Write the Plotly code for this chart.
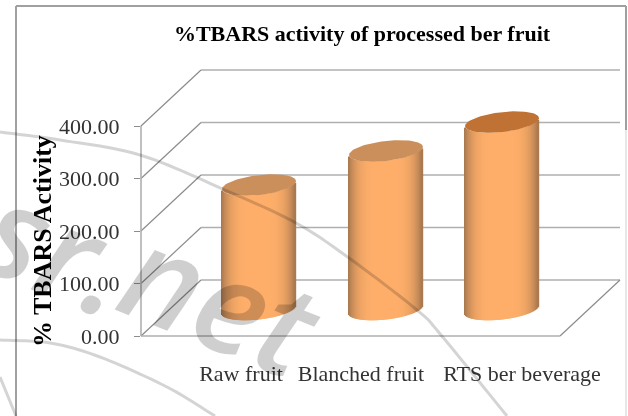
import numpy as np
import plotly.graph_objects as go

# ---- data ----
categories = ["Raw fruit", "Blanched fruit", "RTS ber beverage"]
tbars_values = [237, 302, 357]
y_ticks = [0, 100, 200, 300, 400]
tick_labels = ["0.00", "100.00", "200.00", "300.00", "400.00"]
title_text = "%TBARS activity of processed ber fruit"
y_title = "% TBARS Activity"
watermark_parts = ["sr.", "net"]

# ---- pseudo-3D layout constants ----
W, H = 628, 416
LEFT, RIGHT, TOP, BOTTOM = 141, 560, 126, 336   # front plane of the plot in page pixels
PX_PER_UNIT = (BOTTOM - TOP) / 400
DX, DY_UNITS = 60, 56 / PX_PER_UNIT             # depth of the 3D box
bar_centres = [259, 386, 502]                   # x-axis positions of the cylinders
label_centres = [241, 361, 522]
FLOOR_OFFSET = (BOTTOM - 309.5) / PX_PER_UNIT   # cylinders stand mid-depth
RX = 37
RY_UNITS = 10 / PX_PER_UNIT
TILT_UNITS = 4 / PX_PER_UNIT
top_colours = ["rgb(203,143,92)", "rgb(203,143,92)", "rgb(192,114,52)"]
YMAX = BOTTOM / PX_PER_UNIT                     # axis runs on to the page top


def py(page_y):
    """page pixel row -> value on the y axis"""
    return (BOTTOM - page_y) / PX_PER_UNIT


def fx(x):
    return (x - LEFT) / (W - LEFT)


def fy(page_y):
    return py(page_y) / YMAX


def body_colour(t):
    """t in [-1, 1] across the cylinder"""
    k = abs(t) ** 4
    dark, light = np.array([165, 118, 78]), np.array([255, 175, 106])
    c = light + (dark - light) * k
    return "rgb(%d,%d,%d)" % tuple(c)


def smooth(xs, ys, n=12):
    """Catmull-Rom polyline through the traced points of a watermark arc"""
    p = np.column_stack([xs, ys]).astype(float)
    p = np.vstack([2 * p[0] - p[1], p, 2 * p[-1] - p[-2]])
    out = []
    for i in range(1, len(p) - 2):
        for u in np.linspace(0, 1, n, endpoint=False):
            out.append(0.5 * (2 * p[i] + (p[i + 1] - p[i - 1]) * u
                              + (2 * p[i - 1] - 5 * p[i] + 4 * p[i + 1] - p[i + 2]) * u ** 2
                              + (3 * p[i] - p[i - 1] - 3 * p[i + 1] + p[i + 2]) * u ** 3))
    out.append(p[-2])
    return out


fig = go.Figure()
strip = np.arange(-RX + 0.5, RX, 1.0)
for cx, val, top in zip(bar_centres, tbars_values, top_colours):
    t = strip / RX
    lower = FLOOR_OFFSET - RY_UNITS * np.sqrt(1 - t ** 2) + TILT_UNITS * t
    fig.add_trace(go.Bar(
        x=cx + strip, y=[val] * len(strip), base=lower, width=1.4,
        marker=dict(color=[body_colour(v) for v in t], line=dict(width=0)),
        cliponaxis=False, showlegend=False, hoverinfo="skip"))
    a = np.linspace(0, 2 * np.pi, 90)
    fig.add_trace(go.Scatter(
        x=cx + RX * np.cos(a),
        y=val + FLOOR_OFFSET + RY_UNITS * np.sin(a) + TILT_UNITS * np.cos(a),
        mode="lines", fill="toself", fillcolor=top, line=dict(width=0, color=top),
        cliponaxis=False, showlegend=False, hoverinfo="skip"))


def seg(x0, v0, x1, v1, line):
    """line in axis units, via paper refs so that it is not clipped"""
    return dict(type="line", xref="paper", yref="paper", layer="below",
                x0=fx(x0), x1=fx(x1), y0=v0 / YMAX, y1=v1 / YMAX, line=line)


# 3D box drawn from the tick values
shapes = []
grid = dict(color="rgb(175,175,175)", width=1.6)
slant = dict(color="rgb(140,140,140)", width=1.2)
for v in y_ticks:
    shapes.append(seg(LEFT + DX, v + DY_UNITS, 620, v + DY_UNITS, grid))
    shapes.append(seg(LEFT, v, LEFT + DX, v + DY_UNITS, slant))
shapes.append(seg(RIGHT, 0, 620, DY_UNITS, slant))
shapes.append(seg(LEFT, 0, RIGHT, 0, grid))
shapes.append(seg(LEFT, 0, LEFT, y_ticks[-1], grid))
# outer frame
frame = dict(color="rgb(160,160,160)", width=2)
for x0, y0, x1, y1 in [(16, 6, 626, 6), (16, 6, 16, 416), (626, 6, 626, 130)]:
    shapes.append(seg(x0, py(y0), x1, py(y1), frame))
shapes.append(seg(626, py(130), 626, py(416), dict(color="rgb(232,232,232)", width=2)))

# watermark arcs, over everything
arc_colour = "rgba(0,0,0,0.17)"
arcs = [
    ([0, 60, 140, 225, 296, 349, 417, 441, 507], [132, 140, 155, 190, 223, 258, 310, 335, 416]),
    ([0, 50, 100, 167, 215], [340, 343, 357, 387, 416]),
    ([0, 16], [377, 416]),
]
for ax_, ay_ in arcs:
    pts = " L ".join("%.4f,%.4f" % (fx(q[0]), fy(q[1])) for q in smooth(ax_, ay_))
    shapes.append(dict(type="path", xref="paper", yref="paper", layer="above",
                       path="M " + pts, line=dict(color=arc_colour, width=3)))

wm_font = dict(family="Open Sans", size=130, style="italic", weight=600, color="rgba(0,0,0,0.19)")
centred = dict(xref="paper", yref="paper", xanchor="center", yanchor="middle", showarrow=False)
fig.update_layout(
    width=W, height=H, autosize=False,
    margin=dict(l=LEFT, r=0, t=0, b=H - BOTTOM, pad=0),
    paper_bgcolor="white", plot_bgcolor="rgba(0,0,0,0)",
    barmode="overlay", showlegend=False, shapes=shapes,
    font=dict(family="Liberation Serif", color="#333"),
    title=dict(text="<b>%s</b>" % title_text, x=362 / W, y=1 - 33 / H,
               xanchor="center", yanchor="middle",
               font=dict(family="Liberation Serif", size=22, color="black")),
    xaxis=dict(range=[LEFT, W], tickmode="array", tickvals=label_centres,
               ticktext=categories, ticks="", showgrid=False, zeroline=False,
               showline=False,
               ticklabelstandoff=22, tickfont=dict(size=22), automargin=False),
    yaxis=dict(range=[0, YMAX], tickmode="array", tickvals=y_ticks, ticktext=tick_labels,
               ticks="outside", ticklen=6, tickcolor="rgb(140,140,140)", showgrid=False,
               zeroline=False, showline=False,
               ticklabelstandoff=10, tickfont=dict(size=22), automargin=False),
    annotations=[
        dict(text="<b>%s</b>" % y_title, x=fx(42), y=fy(241), textangle=-90,
             font=dict(family="Liberation Serif", size=26, color="black"), **centred),
        dict(text=watermark_parts[0], x=fx(60), y=fy(246), textangle=22, font=wm_font, **centred),
        dict(text=watermark_parts[1], x=fx(222), y=fy(298), textangle=22, font=wm_font, **centred),
    ],
)

fig.write_html("out.html", config={"displayModeBar": False},
               post_script="document.body.style.margin='0';document.body.style.overflow='hidden';"
                           "document.body.style.filter='blur(0.5px)';")
